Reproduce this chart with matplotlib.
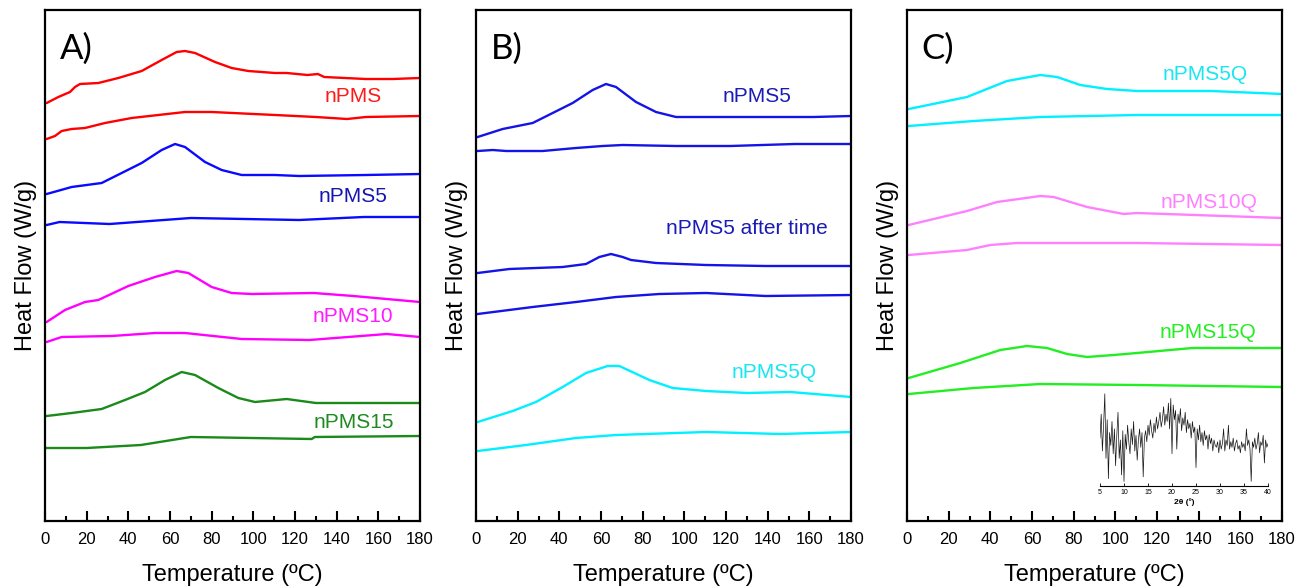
import numpy as np
import matplotlib.pyplot as plt
from matplotlib.ticker import MultipleLocator

plt.rcParams['font.family'] = ['Liberation Sans', 'DejaVu Sans']

# ---------------- Panel A: nPMS series (first / second heating) ----------------
a_npms_t1 = [0.8, 6.4, 12, 14.4, 16.8, 25.6, 35.2, 46.4, 56, 63.2, 67.2, 72, 81.6, 89.6, 97.6, 110.4,
             116, 126, 131, 134, 154, 167, 180]
a_npms_h1 = [4.18, 4.24, 4.29, 4.34, 4.37, 4.38, 4.43, 4.50, 4.61, 4.69, 4.70, 4.68, 4.59, 4.53, 4.50, 4.48,
             4.48, 4.46, 4.47, 4.44, 4.42, 4.42, 4.43]
a_npms_t2 = [0.8, 4.8, 8, 12.8, 19.2, 28.8, 41.6, 54.4, 67.2, 80, 110.4, 130, 145, 154, 180]
a_npms_h2 = [3.82, 3.85, 3.90, 3.92, 3.93, 3.98, 4.03, 4.06, 4.09, 4.09, 4.06, 4.04, 4.02, 4.04, 4.05]

a_npms5_t1 = [0.8, 12.8, 27.2, 36.8, 46.4, 56, 62.4, 67.2, 76.8, 84.8, 94.4, 110.4, 122, 154, 180]
a_npms5_h1 = [3.27, 3.34, 3.38, 3.48, 3.58, 3.71, 3.77, 3.74, 3.59, 3.51, 3.46, 3.46, 3.45, 3.46, 3.47]
a_npms5_t2 = [0.8, 7, 31, 70, 122, 153, 180]
a_npms5_h2 = [2.96, 2.99, 2.97, 3.03, 3.01, 3.04, 3.04]

a_npms10_t1 = [0.8, 9.6, 19.2, 25.6, 40, 52.8, 63.2, 68.8, 80, 89.6, 99.2, 129, 148, 180]
a_npms10_h1 = [1.99, 2.11, 2.19, 2.21, 2.35, 2.44, 2.50, 2.48, 2.34, 2.28, 2.27, 2.28, 2.25, 2.19]
a_npms10_t2 = [0.8, 8, 32, 52.8, 67.2, 94.4, 127, 164, 180]
a_npms10_h2 = [1.79, 1.84, 1.85, 1.88, 1.88, 1.82, 1.81, 1.87, 1.84]

a_npms15_t1 = [0.8, 12.8, 27.2, 38.4, 48, 57.6, 65.6, 72, 83.2, 92.8, 100.8, 116, 130, 180]
a_npms15_h1 = [1.05, 1.08, 1.12, 1.21, 1.29, 1.41, 1.49, 1.46, 1.33, 1.23, 1.19, 1.22, 1.18, 1.18]
a_npms15_t2 = [0.8, 20, 46, 70, 128, 129.5, 180]
a_npms15_h2 = [0.73, 0.73, 0.76, 0.84, 0.82, 0.84, 0.85]

# ---------------- Panel B: nPMS5 fresh / aged / quenched ----------------
b_npms5_t1 = [0.8, 12.8, 27.2, 36.8, 46.4, 56, 62.4, 67.2, 76.8, 86.4, 96, 110.4, 130, 162, 180]
b_npms5_h1 = [3.84, 3.92, 3.98, 4.08, 4.18, 4.31, 4.37, 4.34, 4.19, 4.09, 4.04, 4.04, 4.04, 4.04, 4.05]
b_npms5_t2 = [0.8, 8, 14.4, 32, 48, 60.8, 70.4, 96, 122, 153, 180]
b_npms5_h2 = [3.70, 3.71, 3.70, 3.70, 3.73, 3.75, 3.76, 3.75, 3.75, 3.77, 3.77]

b_aged_t1 = [0.8, 16, 41.6, 52.8, 59.2, 64.8, 70.4, 74.4, 86.4, 110.4, 139, 180]
b_aged_h1 = [2.48, 2.52, 2.54, 2.57, 2.64, 2.67, 2.64, 2.61, 2.58, 2.56, 2.55, 2.55]
b_aged_t2 = [0.8, 27.2, 48, 67.2, 88, 110.4, 139, 180]
b_aged_h2 = [2.07, 2.14, 2.19, 2.24, 2.27, 2.28, 2.25, 2.26]

b_npms5q_t1 = [0.8, 17.6, 28.8, 41.6, 52.8, 63.2, 68.8, 83.2, 94.4, 110.4, 130, 151, 180]
b_npms5q_h1 = [0.99, 1.10, 1.19, 1.34, 1.48, 1.55, 1.55, 1.41, 1.33, 1.30, 1.28, 1.29, 1.24]
b_npms5q_t2 = [0.8, 24, 48, 67.2, 110.4, 146, 180]
b_npms5q_h2 = [0.70, 0.76, 0.83, 0.86, 0.89, 0.87, 0.89]

# ---------------- Panel C: quenched samples ----------------
c_npms5q_t1 = [0.8, 28.8, 48, 64, 72, 83.2, 96, 110.4, 146, 180]
c_npms5q_h1 = [4.12, 4.24, 4.40, 4.46, 4.44, 4.36, 4.32, 4.30, 4.30, 4.27]
c_npms5q_t2 = [0.8, 32, 64, 110.4, 180]
c_npms5q_h2 = [3.95, 4.00, 4.04, 4.06, 4.06]

c_npms10q_t1 = [0.8, 28.8, 43.2, 64, 70.4, 86.4, 104, 110.4, 180]
c_npms10q_h1 = [2.96, 3.10, 3.19, 3.25, 3.24, 3.14, 3.07, 3.08, 3.03]
c_npms10q_t2 = [0.8, 28.8, 40, 52.8, 110.4, 180]
c_npms10q_h2 = [2.66, 2.71, 2.76, 2.78, 2.78, 2.76]

c_npms15q_t1 = [0.8, 25.6, 44.8, 57.6, 67.2, 76.8, 86.4, 99.2, 110.4, 137, 180]
c_npms15q_h1 = [1.43, 1.58, 1.71, 1.75, 1.73, 1.67, 1.64, 1.66, 1.68, 1.73, 1.73]
c_npms15q_t2 = [0.8, 32, 64, 110.4, 180]
c_npms15q_h2 = [1.27, 1.33, 1.37, 1.36, 1.34]

# XRD pattern of nPMS15Q (inset), 2theta from 5 to 40 deg, step 0.25
xrd_2theta = np.arange(5, 40.01, 0.25)
xrd_counts = [0.52, 0.78, 0.38, 0.66, 1.00, 0.30, 0.72, 0.08, 0.58, 0.44,
              0.70, 0.35, 0.62, 0.22, 0.55, 0.80, 0.30, 0.50, 0.12, 0.60,
              0.05, 0.56, 0.40, 0.66, 0.48, 0.35, 0.62, 0.45, 0.70, 0.38,
              0.55, 0.28, 0.50, 0.62, 0.42, 0.58, 0.10, 0.52, 0.60, 0.48,
              0.66, 0.55, 0.72, 0.60, 0.52, 0.68, 0.58, 0.75, 0.62, 0.70,
              0.80, 0.64, 0.72, 0.86, 0.66, 0.78, 0.70, 0.90, 0.62, 0.95,
              0.35, 0.88, 0.72, 0.82, 0.40, 0.78, 0.68, 0.84, 0.60, 0.74,
              0.66, 0.80, 0.58, 0.72, 0.62, 0.68, 0.52, 0.70, 0.58, 0.64,
              0.20, 0.62, 0.50, 0.66, 0.48, 0.58, 0.44, 0.60, 0.50, 0.55,
              0.40, 0.56, 0.46, 0.52, 0.38, 0.50, 0.44, 0.42, 0.48, 0.36,
              0.50, 0.40, 0.46, 0.62, 0.38, 0.50, 0.44, 0.66, 0.40, 0.48,
              0.42, 0.52, 0.38, 0.46, 0.50, 0.40, 0.44, 0.36, 0.48, 0.42,
              0.46, 0.38, 0.62, 0.44, 0.50, 0.40, 0.05, 0.48, 0.42, 0.52,
              0.40, 0.46, 0.58, 0.36, 0.48, 0.44, 0.55, 0.25, 0.50, 0.42,
              0.46]

# (t1, h1, t2, h2, curve colour, label, label colour, label x, label y)
panel_a = [
    (a_npms_t1, a_npms_h1, a_npms_t2, a_npms_h2, '#ff0000', 'nPMS', '#ff1a1a', 148, 4.24),
    (a_npms5_t1, a_npms5_h1, a_npms5_t2, a_npms5_h2, '#0a0aff', 'nPMS5', '#1515b0', 148, 3.24),
    (a_npms10_t1, a_npms10_h1, a_npms10_t2, a_npms10_h2, '#ff00ff', 'nPMS10', '#ff1aff', 148, 2.04),
    (a_npms15_t1, a_npms15_h1, a_npms15_t2, a_npms15_h2, '#1a8a1a', 'nPMS15', '#1f8a1f', 148, 0.99),
]
panel_b = [
    (b_npms5_t1, b_npms5_h1, b_npms5_t2, b_npms5_h2, '#1414e6', 'nPMS5', '#1a1ab8', 135, 4.24),
    (b_aged_t1, b_aged_h1, b_aged_t2, b_aged_h2, '#1414e6', 'nPMS5 after time', '#1a1ab8', 130, 2.92),
    (b_npms5q_t1, b_npms5q_h1, b_npms5q_t2, b_npms5q_h2, '#00f0ff', 'nPMS5Q', '#19e6f0', 143, 1.49),
]
panel_c = [
    (c_npms5q_t1, c_npms5q_h1, c_npms5q_t2, c_npms5q_h2, '#00f0ff', 'nPMS5Q', '#19e6f0', 143, 4.46),
    (c_npms10q_t1, c_npms10q_h1, c_npms10q_t2, c_npms10q_h2, '#ff80ff', 'nPMS10Q', '#ff80ff', 145, 3.19),
    (c_npms15q_t1, c_npms15q_h1, c_npms15q_t2, c_npms15q_h2, '#22ee22', 'nPMS15Q', '#22ee22', 144.5, 1.89),
]

fig = plt.figure(figsize=(12.98, 5.86), dpi=100)

lefts = [45, 476, 907]
letters = ['A)', 'B)', 'C)']
panels = [panel_a, panel_b, panel_c]

for left, letter, series in zip(lefts, letters, panels):
    ax = fig.add_axes([left / 1298, 65 / 586, 375 / 1298, 511 / 586])
    for t1, h1, t2, h2, col, name, tcol, lx, ly in series:
        # first run starts at 0 degC on the axis edge
        ax.plot([0] + t1, [h1[0]] + h1, color=col, lw=1.7, solid_joinstyle='round')
        ax.plot([0] + t2, [h2[0]] + h2, color=col, lw=1.7, solid_joinstyle='round')
        ax.text(lx, ly, name, color=tcol, fontsize=15, ha='center', va='center')
    ax.text(7, 4.72, letter, fontsize=25, family=['Lato', 'DejaVu Sans'], va='center', ha='left')
    ax.set_xlim(0, 180)
    ax.set_ylim(0, 5.11)
    ax.xaxis.set_major_locator(MultipleLocator(20))
    ax.xaxis.set_minor_locator(MultipleLocator(10))
    ax.tick_params(axis='x', which='major', direction='in', length=7, width=1.5, labelsize=12, pad=8)
    ax.tick_params(axis='x', which='minor', direction='in', length=3.5, width=1.5)
    ax.set_yticks([])
    for sp in ax.spines.values():
        sp.set_linewidth(1.6)
    ax.set_xlabel('Temperature (ºC)', fontsize=17, labelpad=12)
    ax.set_ylabel('Heat Flow (W/g)', fontsize=17, labelpad=6)

# XRD inset in panel C
ins = fig.add_axes([1100 / 1298, 100 / 586, 168 / 1298, 94 / 586])
ins.plot(xrd_2theta, xrd_counts, color='#151515', lw=0.5)
ins.set_xlim(5, 40)
ins.set_ylim(0, 1.02)
ins.set_yticks([])
for side in ['top', 'right', 'left']:
    ins.spines[side].set_visible(False)
ins.spines['bottom'].set_linewidth(0.8)
ins.xaxis.set_major_locator(MultipleLocator(5))
ins.tick_params(axis='x', direction='in', length=2, width=0.6, labelsize=5, pad=2)
ins.patch.set_alpha(0)
ins.set_xlabel('2θ (º)', fontsize=6, fontweight='bold', labelpad=2)

plt.savefig('out.png', dpi=100)
